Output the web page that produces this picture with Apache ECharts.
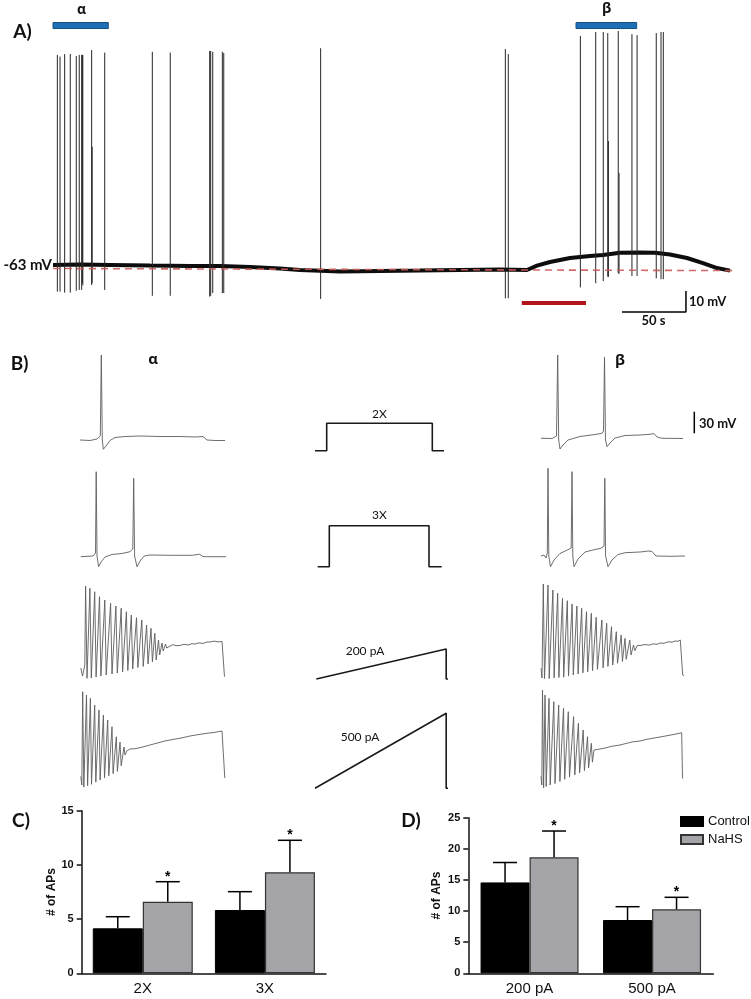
<!DOCTYPE html>
<html>
<head>
<meta charset="utf-8">
<script src="https://cdn.jsdelivr.net/npm/echarts@6/dist/echarts.min.js"></script>
<style>
html, body { margin: 0; padding: 0; background: #fff; }
#main { width: 751px; height: 999px; }
</style>
</head>
<body>
<div id="main"></div>
<script>
/*
 * A) spontaneous recording, time in s, membrane potential in mV
 */
var baselineA = [[0,-61.3],[21.1,-61.1],[44.5,-61.3],[75.8,-61.6],[107,-61.8],[130.5,-61.8],[153.9,-62.3],
	[177.3,-63],[193,-63.7],[224.2,-64.4],[255.5,-64.2],[286.7,-64],[318,-63.7],[349.2,-63.5],[370.3,-63.7],
	[378.1,-61.6],[388.3,-59.9],[403.9,-58],[419.5,-57],[429.7,-56.6],[443,-55.5],[458.6,-55.4],[470.3,-55.5],
	[482,-56.3],[495.3,-58],[507.8,-60.4],[518.8,-62.8],[528.9,-64]];
var restLineA = [[0,-63],[531,-64]];
var spikeTimesA = [3.4,5.5,9.1,13.5,18.2,20.5,22.4,22.9,23.3,30.2,30.6,40.4,77.6,91.6,122.4,123.2,124.8,132.3,133.4,
	209.1,353.4,355.7,412,424,429.9,433.4,433.9,441.6,442.2,452.3,456.3,471.3,475,476.8];
var spikeTopsA = [38.7,37.9,39.1,39.1,38.2,38.7,38.7,38.7,38.7,41,-5,39.8,40.2,39.8,40.6,40.6,40.2,40.2,39.6,
	41.9,41.5,39.1,47.7,49.6,49.6,49.1,-2.3,50.1,-17.5,48.6,48.1,49.1,49.6,49.6];
var spikeBottomsA = [-74,-74,-74.5,-74.5,-73.6,-73.2,-73.2,-69.9,-71,-70.9,-70,-73.2,-76,-76,-76.4,-76,-74.7,-74.7,-74.7,
	-77.5,-77.2,-77.2,-72,-70,-69,-66.9,-67,-65.3,-65.5,-66.6,-66.6,-67.7,-68.1,-68.1];
var alphaPeriodA = [0, 43.2];
var betaPeriodA = [408.6, 456];
var nahsPeriodA = [366.2, 416.4];
var scaleBarA = [[444.5,-83.7],[494.5,-83.7],[494.5,-73.7]];   // 50 s, 10 mV

/*
 * B) evoked responses, time in ms, mV / pA
 */
var alpha2X = [[0,-65],[100,-65.7],[170,-63.6],[203,-59.4],[213,54],[223,-65],[233,-78],[260,-73.4],[300,-65.7],
	[350,-61.5],[450,-60.1],[600,-59.4],[800,-60.1],[1000,-60.1],[1150,-60.8],[1230,-60.1],[1270,-65],[1350,-65.7],[1450,-65.7]];
var beta2X = [[0,-62.6],[110,-62.9],[155,-59.4],[167,54],[177,-65],[190,-77.6],[220,-72],[270,-65],[390,-60.1],
	[540,-57.3],[610,-55.6],[625,-52.4],[635,50.8],[645,-65],[660,-74.4],[690,-69.2],[740,-62.2],[840,-58.7],
	[990,-58],[1090,-57],[1130,-55.9],[1160,-60.8],[1210,-62.6],[1420,-62.9]];
var alpha3X = [[8,-66],[130,-65],[155,-60.8],[162,53],[170,-65],[186,-80],[210,-73.4],[250,-66.4],[320,-62.9],
	[420,-61.5],[500,-59],[528,-55.2],[537,43.8],[546,-65],[570,-80],[600,-72],[642,-65],[700,-63.6],[900,-64],
	[1123,-64],[1195,-62.6],[1230,-65.7],[1267,-66],[1460,-66]];
var beta3X = [[0,-65],[30,-63.6],[50,-67.8],[63,-60.8],[70,57.8],[78,-65],[95,-80],[130,-70.6],[190,-61.5],
	[263,-56.6],[302,-53.8],[310,53],[318,-65],[330,-80],[370,-69.2],[440,-59.4],[540,-55.9],[600,-54.2],[630,-51],
	[638,43.8],[646,-65],[670,-80],[710,-70.6],[770,-62.9],[840,-60.4],[990,-59.4],[1080,-58],[1110,-58.7],
	[1150,-65],[1290,-65.4],[1440,-65]];
var alpha200 = [[8,-62.2],[25,-73.4],[48,-58],[56,52.6],[70,-76.6],[99,49.4],[113,-76.2],[147,44.6],[161,-74.8],
	[195,37.6],[209,-73.4],[248,33],[262,-72],[306,28.4],[320,-70.6],[359,24.6],[373,-69.2],[412,21.4],[426,-67.8],
	[464,16.6],[478,-65.7],[513,12],[527,-63.6],[565,8.2],[579,-61.5],[618,5],[632,-60],[666,-2],[680,-56.6],
	[710,-6.6],[724,-53.8],[748,-13.6],[762,-51],[785,-23],[797,-44],[820,-27.2],[832,-38.4],[855,-28.6],[867,-34.2],
	[900,-31.4],[930,-29.5],[960,-31],[1000,-30.7],[1040,-29],[1080,-30],[1120,-28.2],[1150,-28.6],[1190,-27],
	[1230,-27.8],[1270,-25.8],[1300,-25.8],[1340,-24.6],[1380,-25.6],[1420,-25.1],[1435,-25.4],[1445,-74.4],[1450,-74.8]];
var beta200 = [[0,-62.6],[10,-76.2],[23,55.4],[35,-77],[70,54],[82,-77],[119,47],[131,-76],[167,42.4],[179,-75.5],
	[215,35.4],[227,-75],[263,32],[275,-73.5],[311,27.4],[323,-72],[359,24.6],[371,-70.5],[407,21.4],[419,-69],
	[455,16.6],[467,-67.5],[503,14.4],[515,-66],[552,8.8],[564,-64],[609,5],[621,-62],[657,0.4],[669,-60],
	[705,-4.4],[717,-58],[753,-11.4],[765,-55.5],[802,-16],[814,-53],[840,-20.6],[852,-50],[888,-23],[900,-44],
	[925,-30],[940,-38],[960,-31],[1000,-30.5],[1040,-29.3],[1080,-30.2],[1120,-28.5],[1160,-29],[1190,-27.2],
	[1230,-27.6],[1270,-25.5],[1310,-26],[1340,-24.4],[1370,-24.8],[1393,-23],[1417,-72],[1430,-72.7]];
var alpha500 = [[8,-60],[18,-72],[27,58.6],[38,-75],[65,54],[76,-73],[104,49.4],[115,-71],[147,40],[158,-68],
	[190,33],[201,-65],[234,26],[245,-62],[277,19],[288,-59],[320,9.6],[331,-56],[363,-4.4],[374,-53],
	[400,-11.8],[412,-45],[440,-18.8],[450,-30],[470,-24],[500,-21.6],[560,-21],[620,-19],[700,-16],[780,-13],
	[860,-10],[940,-8],[1020,-6],[1100,-3.4],[1180,-1.5],[1260,0.2],[1340,1.5],[1420,3.6],[1440,4.3],[1448,-62.2],[1452,-63]];
var beta500 = [[0,-60],[8,-72],[15,61],[26,-76],[40,54],[52,-74],[80,49.4],[92,-72],[128,44.6],[140,-70],
	[177,40],[189,-67],[225,35.4],[237,-64],[273,30.6],[285,-61],[326,23.6],[338,-58],[374,14.4],[386,-55],
	[422,5],[434,-52],[465,-4.4],[476,-48],[503,-13.6],[514,-40],[530,-23],[590,-21.6],[650,-20],[700,-18],
	[790,-16],[860,-13.5],[920,-11.5],[990,-10.4],[1060,-8],[1120,-6.5],[1190,-4.8],[1260,-3],[1330,-1.2],
	[1380,0.3],[1407,1.2],[1415,-62.2],[1420,-63]];
var stim2X = [[0,0],[117,0],[117,183],[1173,183],[1173,0],[1290,0]];
var stim3X = [[27,0],[143,0],[143,273],[1140,273],[1140,0],[1267,0]];
var stim200 = [[13,0],[1312,200],[1312,0],[1330,0]];
var stim500 = [[0,0],[1312,500],[1312,0],[1330,0]];
var scaleBarB = [[1533,-55.6],[1533,-25.6]];   // 30 mV
var stimNames = ['2X', '3X', '200 pA', '500 pA'];

/*
 * C) and D) number of action potentials
 */
var groupsC = ['2X', '3X'];
var controlC = [4.15, 5.84];
var controlErrC = [1.07, 1.69];
var nahsC = [6.6, 9.32];
var nahsErrC = [1.85, 2.95];
var groupsD = ['200 pA', '500 pA'];
var controlD = [14.6, 8.56];
var controlErrD = [3.2, 2.14];
var nahsD = [18.64, 10.28];
var nahsErrD = [4.22, 1.93];

var chart = echarts.init(document.getElementById('main'));

var grids = [], xAxes = [], yAxes = [], series = [];

// invisible grid, only used as a coordinate frame for a trace
function addFrame(left, topPx, width, height, xr, yr) {
	grids.push({ left: left, top: topPx, width: width, height: height });
	var i = grids.length - 1;
	xAxes.push({ gridIndex: i, type: 'value', min: xr[0], max: xr[1], show: false });
	yAxes.push({ gridIndex: i, type: 'value', min: yr[0], max: yr[1], show: false });
	return i;
}

function lineSeries(g, data, color, width, extra) {
	var s = {
		type: 'line', xAxisIndex: g, yAxisIndex: g, data: data, showSymbol: false, symbol: 'none',
		clip: false, silent: true, animation: false,
		lineStyle: { color: color, width: width }
	};
	if (extra) for (var k in extra) s[k] = extra[k];
	return s;
}

// horizontal band (application periods) drawn through the axes
function bandSeries(g, range, y, thick, fill, stroke) {
	return {
		type: 'custom', xAxisIndex: g, yAxisIndex: g, clip: false, silent: true,
		data: [[range[0], range[1], y]],
		encode: { x: [0, 1], y: 2 },
		renderItem: function (params, api) {
			var p0 = api.coord([api.value(0), api.value(2)]);
			var p1 = api.coord([api.value(1), api.value(2)]);
			return {
				type: 'rect',
				shape: { x: p0[0], y: p0[1] - thick / 2, width: p1[0] - p0[0], height: thick },
				style: { fill: fill, stroke: stroke || 'none', lineWidth: stroke ? 1 : 0 }
			};
		}
	};
}

/* ---------- A ---------- */
var gA = addFrame(53, 0, 680, 325.2, [0, 531.25], [-90, 64.86]);
series.push(lineSeries(gA, baselineA, '#0d0d0d', 4, { z: 3 }));
series.push({
	type: 'custom', xAxisIndex: gA, yAxisIndex: gA, clip: false, silent: true, z: 4,
	data: spikeTimesA.map(function (t, i) { return [t, spikeTopsA[i], spikeBottomsA[i]]; }),
	encode: { x: 0, y: [1, 2] },
	renderItem: function (params, api) {
		var p1 = api.coord([api.value(0), api.value(1)]);
		var p2 = api.coord([api.value(0), api.value(2)]);
		return {
			type: 'line',
			shape: { x1: p1[0], y1: p1[1], x2: p2[0], y2: p2[1] },
			style: { stroke: '#262626', lineWidth: 1 }
		};
	}
});
series.push(lineSeries(gA, restLineA, 'rgba(205,92,88,0.9)', 1.6, { z: 5, lineStyle: { color: 'rgba(205,92,88,0.9)', width: 1.6, type: [7, 5] } }));
series.push(bandSeries(gA, alphaPeriodA, 52.7, 6, '#1f6fb6', '#16507f'));
series.push(bandSeries(gA, betaPeriodA, 52.7, 6, '#1f6fb6', '#16507f'));
series.push(bandSeries(gA, nahsPeriodA, -79.4, 4, '#b3141b', null));
series.push(lineSeries(gA, scaleBarA, '#000', 1.5));

/* ---------- B ---------- */
var rowBase = [440, 556, 670, 780];          // pixel level of -65 mV in each row
var stimBase = [450.7, 566.7, 679, 788.3];    // pixel level of 0 pA
var alphaTraces = [alpha2X, alpha3X, alpha200, alpha500];
var betaTraces = [beta2X, beta3X, beta200, beta500];
var stimTraces = [stim2X, stim3X, stim200, stim500];
var traceColor = '#5e5e5e';
for (var r = 0; r < 4; r++) {
	var rowTop = rowBase[r] - 130 / 1.4;
	var ga = addFrame(80, rowTop, 146, 165 / 1.4, [0, 1460], [-100, 65]);
	var gb = addFrame(541, rowTop, 160, 165 / 1.4, [0, 1600], [-100, 65]);
	var gs = addFrame(315, stimBase[r] - 78, 140, 81, [0, 1400], [-20, 520]);
	series.push(lineSeries(ga, alphaTraces[r], traceColor, 0.9));
	series.push(lineSeries(gb, betaTraces[r], traceColor, 0.9));
	series.push(lineSeries(gs, stimTraces[r], '#1a1a1a', 1.6));
	if (r === 0) series.push(lineSeries(gb, scaleBarB, '#000', 1.5));
}

/* ---------- C and D ---------- */
var axisColor = '#111';
function barAxes(left, topPx, width, height, cats, max, nameGap) {
	grids.push({ left: left, top: topPx, width: width, height: height });
	var i = grids.length - 1;
	xAxes.push({
		gridIndex: i, type: 'category', data: cats,
		axisLine: { lineStyle: { color: axisColor, width: 1.5 } },
		axisTick: { show: false },
		axisLabel: { color: '#111', fontSize: 15, fontFamily: 'Liberation Sans', margin: 8 }
	});
	yAxes.push({
		gridIndex: i, type: 'value', min: 0, max: max, interval: 5,
		axisLine: { show: true, lineStyle: { color: axisColor, width: 1.5 } },
		axisTick: { show: true, length: 5, lineStyle: { color: axisColor, width: 1.5 } },
		splitLine: { show: false },
		axisLabel: { color: '#111', fontSize: 11, fontWeight: 'bold', fontFamily: 'Liberation Sans', margin: 8 },
		name: '# of APs', nameLocation: 'middle', nameGap: nameGap,
		nameTextStyle: { color: '#111', fontSize: 12, fontWeight: 'bold', fontFamily: 'Liberation Sans' }
	});
	return i;
}

function barPair(g, ctrl, ctrlErr, nahs, nahsErr, barW) {
	series.push({
		type: 'bar', name: 'Control', xAxisIndex: g, yAxisIndex: g, data: ctrl,
		barWidth: barW, barGap: '0%', animation: false,
		itemStyle: { color: '#000', borderColor: '#000', borderWidth: 1 }
	});
	series.push({
		type: 'bar', name: 'NaHS', xAxisIndex: g, yAxisIndex: g, data: nahs,
		barWidth: barW, barGap: '0%', animation: false,
		itemStyle: { color: '#a4a4a9', borderColor: '#333', borderWidth: 1.2 }
	});
	var errData = [];
	for (var k = 0; k < ctrl.length; k++) {
		errData.push([k, ctrl[k], ctrlErr[k], -1, 0]);
		errData.push([k, nahs[k], nahsErr[k], 1, 1]);
	}
	series.push({
		type: 'custom', xAxisIndex: g, yAxisIndex: g, silent: true, clip: false, z: 5,
		data: errData,
		encode: { x: 0, y: 1 },
		renderItem: function (params, api) {
			var dx = api.value(3) * barW / 2;
			var base = api.coord([api.value(0), api.value(1)]);
			var tip = api.coord([api.value(0), api.value(1) + api.value(2)]);
			var x = base[0] + dx;
			var kids = [
				{ type: 'line', shape: { x1: x, y1: base[1], x2: x, y2: tip[1] }, style: { stroke: '#000', lineWidth: 1.5 } },
				{ type: 'line', shape: { x1: x - 12, y1: tip[1], x2: x + 12, y2: tip[1] }, style: { stroke: '#000', lineWidth: 1.5 } }
			];
			if (api.value(4) === 1) {
				kids.push({
					type: 'text', x: x, y: tip[1] - 5,
					style: { text: '*', fill: '#000', font: 'bold 14px "Liberation Sans"', textAlign: 'center', textVerticalAlign: 'middle' }
				});
			}
			return { type: 'group', children: kids };
		}
	});
}

var gC = barAxes(81.7, 810.7, 244.3, 162.6, groupsC, 15, 24);
barPair(gC, controlC, controlErrC, nahsC, nahsErrC, 50);
var gD = barAxes(468.3, 817.7, 245, 155.6, groupsD, 25, 26);
barPair(gD, controlD, controlErrD, nahsD, nahsErrD, 49);

/* ---------- text ---------- */
function txt(text, x, y, font, align) {
	return {
		type: 'text', x: x, y: y, silent: true,
		style: { text: text, font: font, fill: '#111', textAlign: align || 'center', textVerticalAlign: 'middle' }
	};
}
var panelFont = 'bold 19px Lato';
var graphics = [
	txt('A)', 22.5, 32, panelFont),
	txt('B)', 19.5, 363.5, panelFont),
	txt('C)', 21, 820.5, panelFont),
	txt('D)', 411, 820.5, panelFont),
	txt('α', 81.5, 10, 'bold 14px "Open Sans"'),
	txt('β', 606.5, 9.5, 'bold 14px "Open Sans"'),
	txt('-63 mV', 52, 265.5, 'bold 15px Lato', 'right'),
	txt('10 mV', 689, 301.5, 'bold 13px Lato', 'left'),
	txt('50 s', 653.5, 321, 'bold 13px Lato'),
	txt('α', 153, 360, 'bold 15px "Open Sans"'),
	txt('β', 620, 360.5, 'bold 15px "Open Sans"'),
	txt('30 mV', 699, 424, 'bold 13px Lato', 'left'),
	txt(stimNames[0], 379.3, 414.5, '12px Lato'),
	txt(stimNames[1], 379.3, 515.5, '12px Lato'),
	txt(stimNames[2], 365, 651.5, '12px Lato'),
	txt(stimNames[3], 360, 737.5, '12px Lato')
];

chart.setOption({
	backgroundColor: '#fff',
	animation: false,
	grid: grids,
	xAxis: xAxes,
	yAxis: yAxes,
	legend: {
		data: ['Control', 'NaHS'], orient: 'vertical', left: 680, top: 815, padding: 0,
		itemWidth: 22, itemHeight: 9, itemGap: 5, icon: 'rect', selectedMode: false,
		textStyle: { color: '#111', fontSize: 13, fontFamily: 'Liberation Sans' }
	},
	graphic: graphics,
	series: series
});
</script>
</body>
</html>
